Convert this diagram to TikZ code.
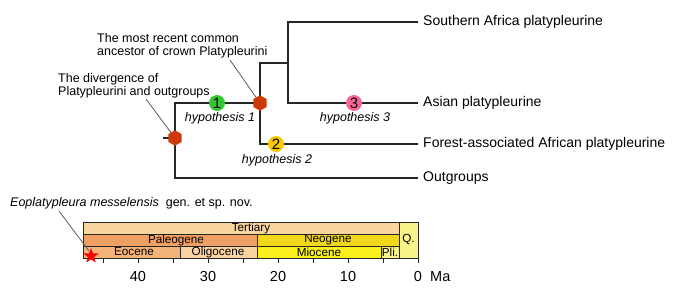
\documentclass[tikz,border=0pt]{standalone}
\usepackage{fontspec}
\setmainfont{Liberation Sans}
\usetikzlibrary{shapes.geometric}
\definecolor{hexred}{HTML}{CC3A0A}
\definecolor{hgreen}{HTML}{33C833}
\definecolor{hyellow}{HTML}{FAC800}
\definecolor{hpink}{HTML}{FA6496}
\definecolor{tert}{HTML}{F9D5A0}
\definecolor{paleo}{HTML}{F0A064}
\definecolor{eoc}{HTML}{F4B478}
\definecolor{olig}{HTML}{FAD4A0}
\definecolor{neo}{HTML}{F2D81C}
\definecolor{mioc}{HTML}{FAF01E}
\definecolor{plio}{HTML}{FBF58C}
\definecolor{quat}{HTML}{F8F48A}

\begin{document}
\begin{tikzpicture}[x=1pt,y=-1pt,
  every node/.style={font=\fontsize{12.5}{13}\selectfont,inner sep=0pt},
  branch/.style={line width=1.4pt,black!85},
  leaf/.style={anchor=west,inner xsep=5pt,font=\fontsize{14}{16}\selectfont},
  hexa/.style={regular polygon,regular polygon sides=6,shape border rotate=30,fill=hexred,minimum size=15.5pt},
  hyp/.style={circle,minimum size=16pt,font=\fontsize{15}{15}\selectfont},
  hyptext/.style={font=\fontsize{12.5}{13}\selectfont\itshape},
  leader/.style={gray!70!black,line width=0.8pt},
  era/.style={draw=black!85,line width=0.8pt},
  eralabel/.style={font=\fontsize{11.7}{12}\selectfont}]
\useasboundingbox (0,0) rectangle (685,300);
% tree
\coordinate (b0) at (175,138);
\coordinate (b1) at (260,103);
\coordinate (b2) at (288,63);
\coordinate (stem) at (163,138);
\node[leaf] (sa) at (418,22) {Southern Africa platypleurine};
\node[leaf] (asia) at (418,103) {Asian platypleurine};
\node[leaf] (forest) at (418,144) {Forest-associated African platypleurine};
\node[leaf] (out) at (418,178) {Outgroups};
\draw[branch] (sa.west) -| (b2) |- (asia.west);
\draw[branch] (b2) -| (b1) |- (forest.west);
\draw[branch] (b1) -| (b0) |- (out.west);
\draw[branch] (stem) -- (b0);
% annotations
\node[anchor=west,align=left] (anctxt) at (97,45.5) {The most recent common\\ancestor of crown Platypleurini};
\node[anchor=west,align=left] (divtxt) at (58,85.5) {The divergence of\\Platypleurini and outgroups};
\coordinate (ancfoot) at (230,60);
\coordinate (divfoot) at (146,99);
\draw[leader] (ancfoot) -- (b1);
\draw[leader] (divfoot) -- (b0);
\node[hexa] (div) at (b0) {};
\node[hexa] (anc) at (b1) {};
% hypotheses
\node[hyp,fill=hgreen] (h1) at (217,103) {1};
\node[hyptext] (h1t) at (220,118) {hypothesis 1};
\node[hyp,fill=hyellow] (h2) at (276,144) {2};
\node[hyptext] (h2t) at (277,160) {hypothesis 2};
\node[hyp,fill=hpink] (h3) at (354,103) {3};
\node[hyptext] (h3t) at (355,118) {hypothesis 3};
% time scale
\draw[era,fill=tert] (83,222) rectangle (399,234);
\draw[era,fill=paleo] (83,234) rectangle (257,246);
\draw[era,fill=neo] (257,234) rectangle (399,246);
\draw[era,fill=eoc] (83,246) rectangle (180,258);
\draw[era,fill=olig] (180,246) rectangle (257,258);
\draw[era,fill=mioc] (257,246) rectangle (381,258);
\draw[era,fill=plio] (381,246) rectangle (399,258);
\draw[era,fill=quat] (399,222) rectangle (418,258);
\node[eralabel] (tertiary) at (251,228) {Tertiary};
\node[eralabel] (paleogene) at (176,240) {Paleogene};
\node[eralabel] (neogene) at (328,240) {Neogene};
\node[eralabel] (eocene) at (134,252) {Eocene};
\node[eralabel] (oligocene) at (218,252) {Oligocene};
\node[eralabel] (miocene) at (319,252) {Miocene};
\node[eralabel] (pliocene) at (390,252) {Pli.};
\node[eralabel] (quaternary) at (408.5,240) {Q.};
\foreach \m in {0,5,...,45}
  \draw[era] (418-7*\m,258) -- ++(0,5);
\foreach \m in {0,10,...,40}
  \node[font=\fontsize{14.5}{15}\selectfont] (age\m) at (418-7*\m,277) {\m};
\node[anchor=west,font=\fontsize{14.5}{15}\selectfont] (ma) at (430,277) {Ma};
% fossil
\node[anchor=west] (fossiltxt) at (10,203) {\textit{Eoplatypleura messelensis}\ \ gen. et sp. nov.};
\coordinate (fossilfoot) at (59,211);
\draw[leader] (fossilfoot) -- (89,251);
\node[star,star points=5,star point ratio=2.4,fill=red,minimum size=16pt] (fossil) at (91,256) {};
\end{tikzpicture}
\end{document}
